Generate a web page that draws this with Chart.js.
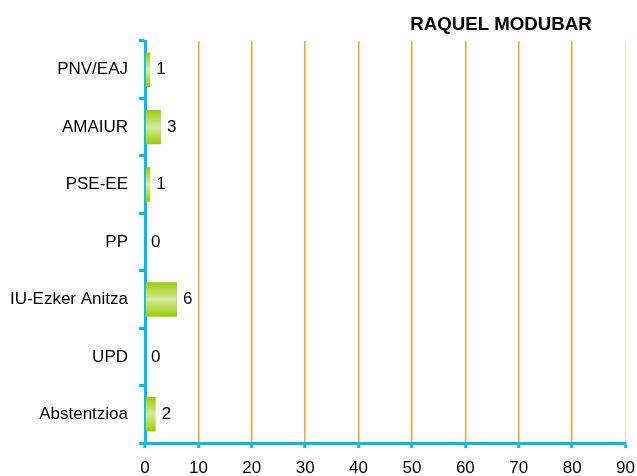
<!DOCTYPE html>
<html>
<head>
<meta charset="utf-8">
<script src="https://cdn.jsdelivr.net/npm/chart.js@4"></script>
<style>
    html, body { margin: 0; padding: 0; background: #fff; overflow: hidden; width: 637px; height: 476px; }
    #wrap { width: 645px; height: 476px; }
</style>
</head>
<body>
<div id="wrap"><canvas id="chart"></canvas></div>
<script>
// Данные
const title = 'RAQUEL MODUBAR';
const categories = ['PNV/EAJ', 'AMAIUR', 'PSE-EE', 'PP', 'IU-Ezker Anitza', 'UPD', 'Abstentzioa'];
const votes = [1, 3, 1, 0, 6, 0, 2];
const xTicks = [0, 10, 20, 30, 40, 50, 60, 70, 80, 90];

const AXIS = '#00bff0';
const GRID = '#f7a02a';
const FONT = "'Liberation Sans', Arial, sans-serif";
const BAR_PCT = 0.6;

// Градиент для столбцов (зелёный по краям, светлый в центре)
function barGradient(ctx) {
    const chart = ctx.chart;
    const area = chart.chartArea;
    const y = chart.scales.y;
    if (!area || !y) return '#9acd14';
    const center = y.getPixelForValue(ctx.dataIndex);
    const half = (area.bottom - area.top) / categories.length * BAR_PCT / 2;
    const g = chart.ctx.createLinearGradient(0, center - half, 0, center + half);
    g.addColorStop(0, '#99cc00');
    g.addColorStop(0.5, '#d6eb9c');
    g.addColorStop(1, '#99cc00');
    return g;
}

// Подписи значений и заголовок
const labelsPlugin = {
    id: 'labels',
    afterDatasetsDraw(chart) {
        const c = chart.ctx;
        c.save();
        c.fillStyle = '#000';
        c.font = '17px ' + FONT;
        c.textBaseline = 'middle';
        c.textAlign = 'left';
        chart.getDatasetMeta(0).data.forEach((bar, i) => {
            c.fillText(String(votes[i]), bar.x + 6, bar.y);
        });
        c.font = 'bold 18.7px ' + FONT;
        c.textAlign = 'center';
        c.fillText(title, 501, 25);
        c.restore();
    }
};

new Chart(document.getElementById('chart'), {
    type: 'bar',
    data: {
        labels: categories,
        datasets: [{
            data: votes,
            backgroundColor: barGradient,
            borderWidth: 0,
            barPercentage: BAR_PCT,
            categoryPercentage: 1
        }]
    },
    options: {
        indexAxis: 'y',
        responsive: true,
        maintainAspectRatio: false,
        animation: false,
        layout: { padding: { top: 41, left: 0, right: 0, bottom: 0 } },
        plugins: { legend: { display: false }, tooltip: { enabled: false } },
        scales: {
            x: {
                min: 0,
                max: 90,
                afterBuildTicks: (scale) => { scale.ticks = xTicks.map(v => ({ value: v })); },
                afterFit: (scale) => { scale.height = 33; },
                border: { color: AXIS, width: 3 },
                grid: {
                    color: (ctx) => ctx.tick && ctx.tick.value === 90 ? '#fde3c0' : GRID,
                    lineWidth: 1.5,
                    drawTicks: true,
                    tickLength: 5,
                    tickColor: AXIS,
                    tickWidth: 3
                },
                ticks: { color: '#000', font: { family: FONT, size: 17 }, padding: 10, maxRotation: 0 }
            },
            y: {
                afterFit: (scale) => { scale.width = 145; },
                border: { color: AXIS, width: 3 },
                grid: {
                    offset: true,
                    drawOnChartArea: false,
                    drawTicks: true,
                    tickLength: 6,
                    tickColor: AXIS,
                    tickWidth: 3
                },
                ticks: { color: '#000', font: { family: FONT, size: 17 }, padding: 11 }
            }
        }
    },
    plugins: [labelsPlugin]
});
</script>
</body>
</html>
